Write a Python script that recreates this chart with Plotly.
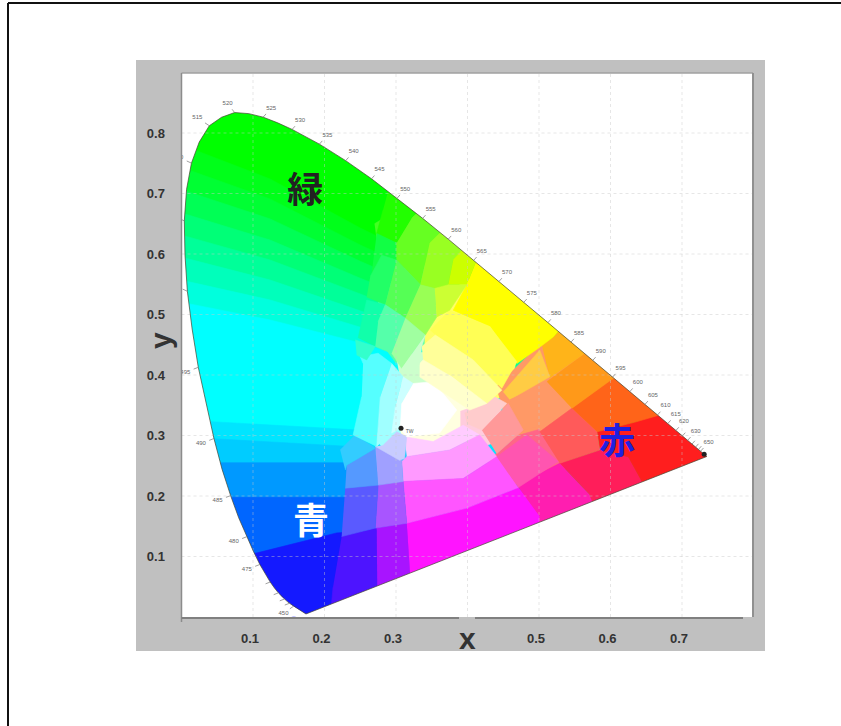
import plotly.graph_objects as go

# Spectral locus of the diagram
locus_nm = [380, 450, 455, 457.5, 460, 462.5, 465, 467.5, 470, 472.5, 475, 477.5, 480, 482.5, 485, 487.5, 490, 492.5,
            495, 497.5, 500, 502.5, 505, 507.5, 510, 512.5, 515, 517.5, 520, 522.5, 525, 527.5, 530, 535, 540, 545,
            550, 555, 560, 565, 570, 575, 580, 585, 590, 595, 600, 605, 610, 615, 620, 625, 630, 635, 640, 645, 650, 780]
locus_x = [.1741, .1566, .1510, .1475, .1440, .1398, .1355, .1300, .1241, .1175, .1096, .1008, .0913, .0800, .0687,
           .0568, .0454, .0340, .0235, .0149, .0082, .0049, .0039, .0071, .0139, .0248, .0389, .0560, .0743, .0942,
           .1142, .1345, .1547, .1929, .2296, .2658, .3016, .3373, .3731, .4087, .4441, .4788, .5125, .5448, .5752,
           .6029, .6270, .6482, .6658, .6801, .6915, .7006, .7079, .7140, .7190, .7230, .7260, .7347]
locus_y = [.0050, .0177, .0227, .0260, .0297, .0345, .0399, .0480, .0578, .0710, .0868, .1080, .1327, .1640, .2007,
           .2440, .2950, .3540, .4127, .4760, .5384, .5980, .6548, .7070, .7502, .7850, .8120, .8260, .8338, .8320,
           .8262, .8168, .8059, .7816, .7543, .7243, .6923, .6589, .6245, .5896, .5547, .5202, .4866, .4544, .4242,
           .3965, .3725, .3514, .3340, .3197, .3083, .2993, .2920, .2859, .2809, .2770, .2740, .2653]
labelled_nm = [450, 475, 480, 485, 490, 495, 510, 515, 520, 525, 530, 535, 540, 545, 550, 555, 560, 565, 570, 575,
               580, 585, 590, 595, 600, 605, 610, 615, 620, 630, 650]

x_ticks = [0.1, 0.2, 0.3, 0.5, 0.6, 0.7]
x_tick_labels = ["0.1", "0.2", "0.3", "0.5", "0.6", "0.7"]
y_ticks = [0.1, 0.2, 0.3, 0.4, 0.5, 0.6, 0.7, 0.8]
y_tick_labels = ["0.1", "0.2", "0.3", "0.4", "0.5", "0.6", "0.7", "0.8"]
grid_x = [0.1, 0.2, 0.3, 0.4, 0.5, 0.6, 0.7]

region_labels = ["緑", "青", "赤"]
region_x = [.173, .181, .609]
region_y = [.700, .152, .285]
region_colors = ["#222222", "#ffffff", "#2020e0"]

dot_x = [.307, .731]
dot_y = [.312, .269]

# Colour patches, back to front
patch_colors = [
    "#00ff00", "#00ff1a", "#00ff33", "#00ff55", "#00ff77", "#00ff99", "#00ffbb", "#00ffdd", "#00ffff",
    "#00e5ff", "#00ccff", "#0099ff", "#0066ff", "#1419ff",
    # underlays closing the seams between the patches
    "#44ff22", "#55ffaa", "#ffff66", "#ffffe0", "#ffccdd", "#ff9966", "#ff6688", "#ccffcc", "#a0ffff",
    "#4d14ff", "#a814ff", "#ff14ff", "#ff1eb0", "#ff1e5a", "#ff1e1e", "#ff5a5a", "#ff6419", "#ff9919", "#ffb419",
    "#ffcc44", "#ff9966", "#ff9999", "#ffcccc", "#ffccff", "#ff99ff", "#ff55ff", "#ff55b0", "#a855ff", "#5a5aff",
    "#5599ff", "#a0a0ff", "#c8ccff", "#33ccff", "#55ffff", "#a0ffff", "#ccffff", "#ffffff",
    "#22ff00", "#11ff44", "#66ff22", "#99ff22", "#ccff00", "#ffff00", "#ffff55", "#ffff99", "#ffffcc",
    "#22ff66", "#55ff55", "#99ff55", "#ccff33", "#11ffaa", "#55ffaa", "#a0ffa0", "#ccffcc", "#33ffcc",
]
patch_x = [
    [-.05, .9, .9, -.05],
    [-.05, .124, .25, .5, .5, -.05], [-.05, .124, .25, .5, .5, -.05], [-.05, .124, .25, .5, .5, -.05],
    [-.05, .124, .25, .5, .5, -.05], [-.05, .124, .25, .5, .5, -.05], [-.05, .124, .25, .5, .5, -.05],
    [-.05, .124, .25, .5, .5, -.05], [-.05, .124, .25, .5, .5, -.05],
    [-.05, .25, .5, .5, -.05], [-.05, .25, .5, .5, -.05], [-.05, .25, .5, .5, -.05], [-.05, .25, .5, .5, -.05],
    [-.05, .106, .217, .5, .5, -.05],
    [.27, .34, .41, .36, .28],
    [.275, .33, .36, .34, .30, .275],
    [.34, .40, .47, .46, .40, .34],
    [.31, .38, .42, .40, .34, .30],
    [.39, .44, .46, .42, .39],
    [.44, .50, .57, .60, .58, .52, .46],
    [.43, .47, .50, .54, .52, .45],
    [.30, .35, .36, .31],
    [.27, .30, .31, .28],
    [.224, .273, .275, .208, .212],
    [.273, .315, .322, .274],
    [.315, .399, .471, .508, .508, .322],
    [.469, .529, .571, .585, .501, .501],
    [.529, .585, .625, .639, .66, .585, .571],
    [.581, .637, .665, .76, .76, .66, .639, .625, .585],
    [.501, .546, .581, .585, .529],
    [.546, .606, .64, .70, .669, .637, .581],
    [.511, .557, .58, .63, .601, .546],
    [.504, .520, .55, .58, .557, .515],
    [.450, .501, .515, .459],
    [.459, .511, .534, .499, .478],
    [.420, .457, .478, .441],
    [.396, .438, .455, .420, .399],
    [.312, .352, .394, .417, .375, .315],
    [.308, .315, .375, .417, .441, .394, .310],
    [.310, .394, .441, .471, .399, .315],
    [.441, .483, .527, .471],
    [.275, .310, .315, .271],
    [.229, .275, .271, .224],
    [.231, .271, .275, .229],
    [.271, .308, .310, .275],
    [.282, .301, .315, .312, .305, .271],
    [.222, .243, .271, .231, .229],
    [.254, .250, .275, .294, .278, .273, .240, .252],
    [.294, .310, .299, .294, .273, .278],
    [.310, .324, .308, .306, .294, .299],
    [.324, .352, .385, .361, .315, .306, .308],
    [.292, .334, .322, .301, .273, .282],
    [.273, .301, .301, .280, .266],
    [.322, .334, .366, .347, .334, .301, .301],
    [.347, .366, .394, .380, .373, .354, .334],
    [.380, .394, .413, .399, .373],
    [.413, .54, .52, .50, .469, .432, .380, .399],
    [.348, .375, .431, .469, .448, .408, .355],
    [.336, .355, .408, .448, .427, .378, .338],
    [.333, .338, .378, .427, .403, .361, .333],
    [.264, .280, .301, .285, .259],
    [.301, .334, .313, .285],
    [.334, .354, .357, .341, .313],
    [.354, .373, .399, .375, .357],
    [.247, .259, .285, .275, .271],
    [.275, .285, .313, .294, .271],
    [.313, .341, .308, .294],
    [.341, .336, .333, .322, .308],
    [.243, .271, .259, .245],
]
patch_y = [
    [-.05, -.05, .95, .95],
    [.803, .724, .643, .5, -.05, -.05], [.764, .691, .615, .48, -.05, -.05], [.726, .658, .588, .46, -.05, -.05],
    [.686, .623, .560, .44, -.05, -.05], [.648, .590, .534, .42, -.05, -.05], [.610, .557, .506, .40, -.05, -.05],
    [.570, .524, .479, .38, -.05, -.05], [.532, .491, .453, .36, -.05, -.05],
    [.329, .309, .29, -.05, -.05], [.301, .281, .26, -.05, -.05], [.255, .255, .255, -.05, -.05],
    [.198, .198, .198, -.05, -.05],
    [.07, .106, .139, .16, -.05, -.05],
    [.65, .70, .60, .53, .56],
    [.53, .60, .54, .45, .42, .46],
    [.50, .56, .44, .37, .34, .42],
    [.40, .40, .34, .30, .28, .30],
    [.34, .36, .30, .28, .30],
    [.38, .45, .44, .39, .30, .25, .30],
    [.26, .30, .31, .25, .22, .22],
    [.43, .44, .39, .37],
    [.30, .33, .29, .28],
    [.133, .147, .03, .0, .05],
    [.147, .155, .04, .02],
    [.155, .180, .214, .166, .12, .03],
    [.218, .254, .202, .16, .12, .166],
    [.254, .276, .265, .235, .19, .16, .202],
    [.306, .323, .345, .30, .24, .19, .235, .265, .276],
    [.306, .345, .306, .276, .254],
    [.345, .397, .40, .35, .334, .323, .306],
    [.389, .430, .45, .41, .392, .345],
    [.450, .463, .50, .45, .430, .395],
    [.372, .441, .397, .359],
    [.359, .386, .348, .315, .309],
    [.309, .353, .309, .270],
    [.337, .364, .353, .309, .320],
    [.298, .290, .317, .301, .276, .265],
    [.257, .265, .276, .301, .265, .229, .224],
    [.224, .229, .265, .214, .180, .155],
    [.265, .301, .257, .214],
    [.218, .224, .155, .147],
    [.213, .218, .147, .133],
    [.251, .279, .218, .213],
    [.282, .259, .224, .218],
    [.284, .306, .298, .262, .259, .282],
    [.276, .301, .279, .251, .243],
    [.419, .43, .436, .419, .364, .282, .301, .364],
    [.419, .397, .348, .304, .282, .364],
    [.397, .386, .353, .312, .304, .348],
    [.386, .389, .342, .304, .298, .312, .353],
    [.717, .673, .659, .618, .634, .673],
    [.634, .618, .590, .598, .568],
    [.659, .673, .640, .618, .549, .590, .618],
    [.618, .640, .609, .590, .549, .543, .549],
    [.590, .609, .590, .549, .549],
    [.590, .49, .463, .445, .419, .480, .507, .549],
    [.474, .507, .480, .422, .378, .425, .466],
    [.447, .466, .425, .375, .353, .397, .425],
    [.419, .425, .397, .353, .342, .375, .397],
    [.563, .598, .590, .516, .529],
    [.590, .549, .494, .516],
    [.549, .543, .496, .466, .494],
    [.543, .549, .549, .507, .496],
    [.461, .524, .516, .488, .447],
    [.488, .516, .494, .436, .447],
    [.494, .466, .411, .436],
    [.466, .447, .419, .394, .411],
    [.458, .447, .425, .433],
]

WIDTH, HEIGHT = 841, 726
LEFT, RIGHT, TOP, BOTTOM = 181.5, 752.0, 73.0, 617.0
PX_X, PX_Y = 715.0, 605.0  # pixels per data unit
fx = lambda px: px / WIDTH
fy = lambda py: 1 - py / HEIGHT

fig = go.Figure()
for colour, px, py in zip(patch_colors, patch_x, patch_y):
    fig.add_trace(go.Scatter(x=px, y=py, mode="lines", fill="toself", fillcolor=colour,
                             line=dict(color=colour, width=0.6), hoverinfo="skip"))

# White mask outside the locus
mask_x = [-.05, .9, .9, -.05, -.05] + locus_x + [locus_x[0], -.05]
mask_y = [-.05, -.05, .95, .95, -.05] + locus_y + [locus_y[0], -.05]
fig.add_trace(go.Scatter(x=mask_x, y=mask_y, mode="lines", fill="toself", fillcolor="#ffffff",
                         line=dict(width=0), hoverinfo="skip"))

# Dotted grid over the colours
gx, gy = [], []
for v in grid_x:
    gx += [v, v, None]
    gy += [0, 0.9, None]
for v in y_ticks:
    gx += [0, 0.8, None]
    gy += [v, v, None]
fig.add_trace(go.Scatter(x=gx, y=gy, mode="lines", hoverinfo="skip",
                         line=dict(color="rgba(200,200,200,0.45)", width=1, dash="dot")))

# Locus outline
fig.add_trace(go.Scatter(x=locus_x + [locus_x[0]], y=locus_y + [locus_y[0]], mode="lines", hoverinfo="skip",
                         line=dict(color="rgba(70,70,50,0.7)", width=1)))


def label_offset(nm):
    if nm <= 495:
        return (-13, 5) if nm > 450 else (-10, 7)
    if nm <= 510:
        return (-13, -6)
    if nm == 515:
        return (-12, -8)
    if nm == 520:
        return (-7, -9)
    return (8, -9)


tick_x, tick_y, lab_x, lab_y, lab_t = [], [], [], [], []
for nm, x, y in zip(locus_nm, locus_x, locus_y):
    if nm < 450 or nm > 650 or nm % 5:
        continue
    dx, dy = label_offset(nm)
    tick_x += [x, x + 0.36 * dx / PX_X, None]
    tick_y += [y, y - 0.36 * dy / PX_Y, None]
    if nm in labelled_nm:
        lab_x.append(x + dx / PX_X)
        lab_y.append(y - dy / PX_Y)
        lab_t.append(str(nm))
fig.add_trace(go.Scatter(x=tick_x, y=tick_y, mode="lines", hoverinfo="skip",
                         line=dict(color="#777777", width=0.7)))
fig.add_trace(go.Scatter(x=lab_x, y=lab_y, mode="text", text=lab_t, hoverinfo="skip",
                         textfont=dict(family="Liberation Sans", size=6, color="#666666")))

fig.add_trace(go.Scatter(x=dot_x, y=dot_y, mode="markers", hoverinfo="skip",
                         marker=dict(color="#222222", size=5, symbol="circle")))
fig.add_trace(go.Scatter(x=[.319], y=[.306], mode="text", text=["TW"], hoverinfo="skip",
                         textfont=dict(family="Liberation Sans", size=5, color="#555555")))

fig.add_trace(go.Scatter(x=region_x, y=region_y, mode="text", text=region_labels, hoverinfo="skip",
                         textfont=dict(family="Noto Sans CJK JP", size=36, weight=700, color=region_colors)))

frame_shapes = [
    dict(type="line", xref="paper", yref="paper", x0=fx(8), x1=1, y0=fy(3), y1=fy(3),
         line=dict(color="#111111", width=2), layer="below"),
    dict(type="line", xref="paper", yref="paper", x0=fx(8), x1=fx(8), y0=fy(3), y1=0,
         line=dict(color="#111111", width=2), layer="below"),
    dict(type="rect", xref="paper", yref="paper", x0=fx(136), x1=fx(765), y0=fy(651), y1=fy(60),
         fillcolor="#c0c0c0", line=dict(width=0), layer="below"),
    dict(type="rect", xref="paper", yref="paper", x0=fx(LEFT), x1=fx(RIGHT), y0=fy(BOTTOM), y1=fy(TOP),
         fillcolor="#ffffff", line=dict(width=0), layer="below"),
    dict(type="line", xref="paper", yref="paper", x0=fx(LEFT), x1=fx(753), y0=fy(TOP), y1=fy(TOP),
         line=dict(color="#a0a0a0", width=1.5)),
    dict(type="line", xref="paper", yref="paper", x0=fx(753), x1=fx(753), y0=fy(TOP), y1=fy(BOTTOM),
         line=dict(color="#909090", width=2)),
    dict(type="line", xref="paper", yref="paper", x0=fx(LEFT), x1=fx(LEFT), y0=fy(TOP), y1=fy(622),
         line=dict(color="#8c8c8c", width=1.5)),
    dict(type="line", xref="paper", yref="paper", x0=fx(LEFT), x1=fx(459), y0=fy(618), y1=fy(618),
         line=dict(color="#808080", width=2)),
    dict(type="line", xref="paper", yref="paper", x0=fx(475), x1=fx(743), y0=fy(618), y1=fy(618),
         line=dict(color="#808080", width=2)),
]

axis_font = dict(family="Liberation Sans", size=13, weight=700, color="#333333")
fig.update_layout(
    width=WIDTH, height=HEIGHT, margin=dict(l=0, r=0, t=0, b=0), showlegend=False,
    paper_bgcolor="#ffffff", plot_bgcolor="rgba(0,0,0,0)", shapes=frame_shapes,
    xaxis=dict(domain=[fx(LEFT), fx(RIGHT)], range=[0, (RIGHT - LEFT) / PX_X], showgrid=False, zeroline=False,
               tickmode="array", tickvals=x_ticks, ticktext=x_tick_labels, ticks="outside", ticklen=9,
               tickcolor="rgba(0,0,0,0)", tickfont=axis_font, ticklabelshift=-3),
    yaxis=dict(domain=[fy(BOTTOM), fy(TOP)], range=[0, (BOTTOM - TOP) / PX_Y], showgrid=False, zeroline=False,
               tickmode="array", tickvals=y_ticks, ticktext=y_tick_labels, ticks="outside", ticklen=13,
               tickcolor="rgba(0,0,0,0)", tickfont=axis_font),
    annotations=[
        dict(text="x", xref="paper", yref="paper", x=fx(467), y=fy(638), xanchor="center", yanchor="middle",
             showarrow=False, font=dict(family="Liberation Sans", size=30, weight=700, color="#333333")),
        dict(text="y", xref="paper", yref="paper", x=fx(160), y=fy(341), xanchor="center", yanchor="middle",
             showarrow=False, textangle=-90,
             font=dict(family="Liberation Sans", size=30, weight=700, color="#333333")),
    ],
)

fig.write_html("out.html", config={"displayModeBar": False}, post_script="document.body.style.margin='0';")
